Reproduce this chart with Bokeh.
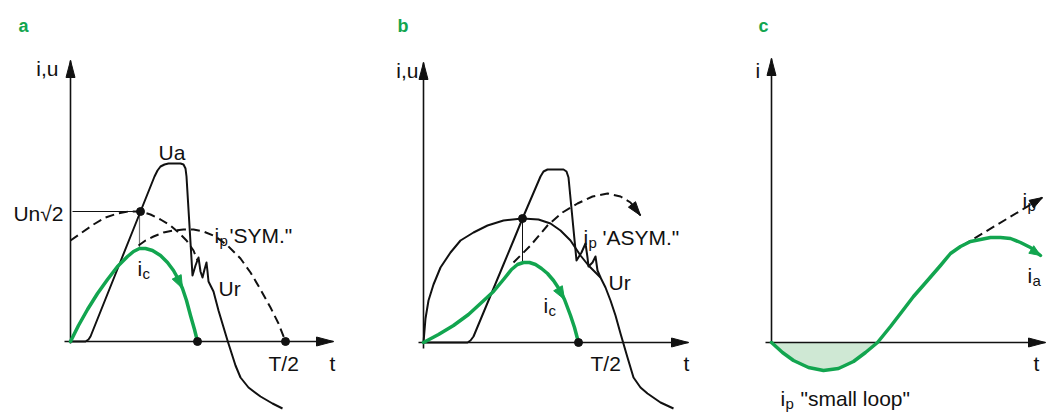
import math
from bokeh.plotting import figure
from bokeh.layouts import row
from bokeh.models import Range1d
from bokeh.core.properties import value
from bokeh.embed import file_html
from bokeh.resources import INLINE

# ---------------- data (t, i/u in drawing units) ----------------
# Panel a : symmetrical prospective current
a_ic_t = [0, 8, 17, 27, 37, 47, 57, 63, 69, 75, 82, 90, 97, 103, 108, 112, 116, 120, 124, 127]
a_ic_i = [0, 16, 32, 48, 62, 75, 85, 90, 93, 93, 91, 86, 79, 71, 62, 53, 41, 26, 12, 0]

a_sym1_t = [0, 10, 23, 35, 47, 58, 70, 80, 90, 100, 108, 116, 123, 127]
a_sym1_i = [101, 108, 117, 124, 128, 130, 130, 127, 122, 116, 109, 101, 91, 81]

a_sym2_t = [68, 75, 83, 93, 103, 113, 123, 133, 145, 157, 170, 180, 190, 200, 208, 215]
a_sym2_i = [96, 101, 105, 109, 111, 112, 112, 110, 105, 96, 83, 69, 52, 34, 18, 0]

a_ua_t = [0, 15, 18, 20, 30, 40, 50, 60, 70, 78, 84, 87, 90, 94, 98, 110, 113, 115, 116,
          122, 125, 128, 130, 132, 134, 136, 137, 138, 143, 148, 157, 165, 170, 178, 190, 202, 212]
a_ua_u = [0, 0, 2, 5, 30, 55, 80, 105, 130, 150, 165, 171, 175, 177, 178, 178, 177, 173, 165,
          66, 76, 84, 70, 64, 72, 79, 70, 60, 50, 31, 1, -24, -36, -46, -55, -62, -67]

a_un_sqrt2 = 130      # level Un*sqrt(2)
a_t_cut = 70          # instant where Ua crosses the prospective current
a_t_zero = 127        # current zero of ic
a_t_half = 215        # T/2

# Panel b : asymmetrical prospective current
b_arc_t = [0, 1, 2, 5, 10, 17, 27, 37, 50, 64, 80, 99, 115, 127, 137, 147, 157, 165, 172, 177,
           182, 187, 192, 197, 204, 210, 217, 224, 237, 250]
b_arc_u = [0, 12, 24, 42, 58, 75, 90, 102, 110, 117, 122, 124, 123, 119, 112, 102, 87, 77, 70, 65,
           55, 42, 27, 9, -15, -35, -45, -51, -60, -66]

b_ua_t = [0, 44, 47, 50, 60, 70, 80, 90, 99, 108, 114, 117, 120, 124, 140, 143, 145, 153, 158,
          162, 164, 165, 169, 172, 174, 177]
b_ua_u = [0, 0, 2, 6, 30, 54, 78, 102, 124, 145, 159, 166, 171, 173, 173, 171, 165, 82, 90,
          99, 85, 76, 80, 86, 72, 65]

b_asym_t = [90, 107, 124, 139, 154, 169, 184, 197, 207, 217]
b_asym_i = [80, 97, 117, 130, 139, 146, 149, 146, 140, 127]

b_ic_t = [0, 15, 30, 45, 57, 70, 80, 88, 94, 100, 106, 112, 118, 124, 130, 136, 141, 147, 151, 155]
b_ic_i = [0, 8, 17, 28, 39, 51, 63, 73, 78, 80, 80, 78, 74, 69, 62, 53, 43, 27, 15, 0]

b_t_cut = 99
b_u_cut = 124
b_ic_peak = 80
b_t_half = 155

# Panel c : small loop
c_ia_t = [0, 11, 22, 37, 52, 67, 82, 94, 106, 119, 129, 142, 156, 169, 179, 189, 199, 209,
          219, 229, 239, 249, 259, 269]
c_ia_i = [0, -10, -18, -25, -28, -26, -19, -10, 0, 16, 29, 46, 62, 77, 89, 96, 101, 103,
          105, 105, 104, 100, 95, 87]
c_loop_n = 9          # number of points of the negative loop

c_ip_t = [191, 271]
c_ip_i = [97, 145]

# axes extents
a_axis = dict(t0=-6, t1=263, i0=-2, i1=281)
b_axis = dict(t0=-5, t1=265, i0=-6, i1=280)
c_axis = dict(t0=-6, t1=274, i0=0, i1=284)

# ---------------- styles ----------------
GREEN = "#12a54f"
LIGHT_GREEN = "#cfe8d4"
INK = "#111111"
FONT = value("Liberation Sans")
FS = "21px"
FS_SUB = "15px"
H = 412


def make_fig(x0, x1, y0, y1, width):
    p = figure(width=width, height=H, x_range=Range1d(x0, x1), y_range=Range1d(y0, y1),
               output_backend="svg", toolbar_location=None, min_border=0,
               x_axis_type=None, y_axis_type=None)
    p.grid.visible = False
    p.outline_line_color = None
    p.background_fill_color = "white"
    p.border_fill_color = "white"
    return p


def head(p, tip_x, tip_y, from_x, from_y, length, half, color):
    dx, dy = tip_x - from_x, tip_y - from_y
    n = math.hypot(dx, dy)
    ux, uy = dx / n, dy / n
    bx, by = tip_x - ux * length, tip_y - uy * length
    px, py = -uy, ux
    p.patch([tip_x, bx + px * half, bx - px * half], [tip_y, by + py * half, by - py * half],
            fill_color=color, line_color=color, line_width=1)


def axes(p, ax):
    p.line([ax["t0"], ax["t1"]], [0, 0], line_color=INK, line_width=1.6)
    p.line([0, 0], [ax["i0"], ax["i1"]], line_color=INK, line_width=1.6)
    head(p, ax["t1"], 0, 0, 0, 17, 4.5, INK)
    head(p, 0, ax["i1"], 0, 0, 17, 4.5, INK)


def label(p, x, y, txt, size=FS, align="left", color=INK, style="normal"):
    p.text(x=[x], y=[y], text=[txt], text_font=FONT, text_font_size=size,
           text_align=align, text_baseline="alphabetic", text_color=color,
           text_font_style=style)


def sub_label(p, x, y, main, sub):
    label(p, x, y, main)
    label(p, x + 5, y - 5, sub, size=FS_SUB)


# ---------------- panel a ----------------
pa = make_fig(-70, 308, 341 - H, 341, 378)
axes(pa, a_axis)
pa.line([2, a_t_cut], [a_un_sqrt2, a_un_sqrt2], line_color=INK, line_width=1)
pa.line([a_t_cut - 1, a_t_cut - 1], [a_un_sqrt2, max(a_ic_i)], line_color="#777777", line_width=1.2)
pa.line(a_sym1_t, a_sym1_i, line_color=INK, line_width=2, line_dash="9 5")
pa.line(a_sym2_t, a_sym2_i, line_color=INK, line_width=2, line_dash="9 5")
pa.line(a_ua_t, a_ua_u, line_color=INK, line_width=2, line_join="round")
pa.line(a_ic_t, a_ic_i, line_color=GREEN, line_width=3.5, line_join="round", line_cap="round")
head(pa, a_ic_t[15], a_ic_i[15], a_ic_t[13], a_ic_i[13], 13, 5, GREEN)
pa.scatter([a_t_cut, a_t_zero, a_t_half], [a_un_sqrt2, 0, 0], size=8, color=INK)
label(pa, -52, 316, "a", size="18px", color=GREEN, style="bold")
label(pa, -12, 273, "i,u", align="right")
label(pa, -7, 128, "Un√2", align="right")
label(pa, 88, 189, "Ua")
sub_label(pa, 144, 106, "i", "p")
label(pa, 159, 106, "'SYM.\"")
sub_label(pa, 67, 73, "i", "c")
label(pa, 148, 53, "Ur")
label(pa, 198, -22, "T/2")
label(pa, 259, -22, "t")

# ---------------- panel b ----------------
pb = make_fig(-45, 325, 342 - H, 342, 370)
axes(pb, b_axis)
pb.line([b_t_cut, b_t_cut], [b_u_cut, b_ic_peak], line_color=INK, line_width=1)
pb.line(b_asym_t, b_asym_i, line_color=INK, line_width=2, line_dash="9 5")
head(pb, b_asym_t[-1], b_asym_i[-1], b_asym_t[-2], b_asym_i[-2], 14, 4.5, INK)
pb.line(b_arc_t, b_arc_u, line_color=INK, line_width=2, line_join="round")
pb.line(b_ua_t, b_ua_u, line_color=INK, line_width=2, line_join="round")
pb.line(b_ic_t, b_ic_i, line_color=GREEN, line_width=3.5, line_join="round", line_cap="round")
head(pb, b_ic_t[16], b_ic_i[16], b_ic_t[14], b_ic_i[14], 13, 5, GREEN)
pb.scatter([b_t_cut, b_t_half], [b_u_cut, 0], size=8, color=INK)
label(pb, -26, 317, "b", size="18px", color=GREEN, style="bold")
label(pb, -5, 272, "i,u", align="right")
sub_label(pb, 160, 105, "i", "p")
label(pb, 179, 105, "'ASYM.\"")
label(pb, 185, 60, "Ur")
sub_label(pb, 120, 37, "i", "c")
label(pb, 167, -21, "T/2")
label(pb, 260, -21, "t")

# ---------------- panel c ----------------
pc = make_fig(-23, 277, 342 - H, 342, 300)
pc.varea(x=c_ia_t[:c_loop_n], y1=[0] * c_loop_n, y2=c_ia_i[:c_loop_n], fill_color=LIGHT_GREEN)
axes(pc, c_axis)
pc.line(c_ip_t, c_ip_i, line_color=INK, line_width=2, line_dash="9 5")
head(pc, c_ip_t[-1], c_ip_i[-1], c_ip_t[0], c_ip_i[0], 13, 4.5, INK)
pc.line(c_ia_t, c_ia_i, line_color=GREEN, line_width=3.5, line_join="round", line_cap="round")
head(pc, c_ia_t[-1], c_ia_i[-1], c_ia_t[-3], c_ia_i[-3], 11, 4.5, GREEN)
label(pc, -13, 317, "c", size="18px", color=GREEN, style="bold")
label(pc, -16, 272, "i")
sub_label(pc, 251, 142, "i", "p")
sub_label(pc, 256, 67, "i", "a")
label(pc, 262, -21, "t")
sub_label(pc, 9, -56, "i", "p")
label(pc, 29, -56, "\"small loop\"")

layout = row(pa, pb, pc)
open("out.html", "w").write(file_html(layout, INLINE))
